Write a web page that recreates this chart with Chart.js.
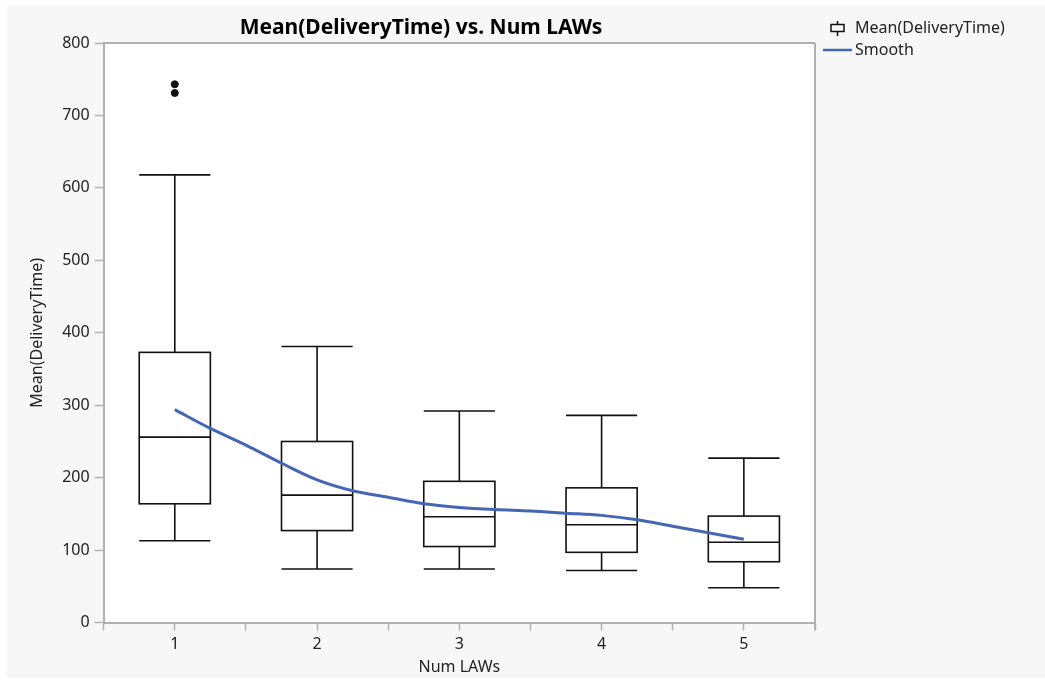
<!DOCTYPE html>
<html>
<head>
<meta charset="utf-8">
<script src="https://cdn.jsdelivr.net/npm/chart.js@4"></script>
<style>
  html, body { margin: 0; padding: 0; background: #ffffff; }
  #wrap { position: absolute; left: 7px; top: 6px; width: 1038px; height: 672px; background: #f7f7f7; }
</style>
</head>
<body>
<div id="wrap"><canvas id="myChart" width="1038" height="672"></canvas></div>
<script>
/* globals Chart:false */
(() => {
  'use strict';

  // Box plot summaries per Num LAWs group
  const numLaws = [1, 2, 3, 4, 5];
  const whiskerLow = [113, 74, 74, 72, 48];
  const q1 = [164, 127, 105, 97, 84];
  const median = [256, 176, 146, 135, 111];
  const q3 = [373, 250, 195, 186, 147];
  const whiskerHigh = [618, 381, 292, 286, 227];

  // Outliers
  const outlierX = [1, 1];
  const outlierY = [743, 731];

  // Smooth curve
  const smoothX = [1, 1.25, 1.5, 1.75, 2, 2.25, 2.5, 2.75, 3, 3.25, 3.5, 3.75, 4, 4.25, 4.5, 4.75, 5];
  const smoothY = [294, 268, 245, 220, 197, 182, 173, 164, 159, 156, 154, 151, 148, 142, 133, 124, 115];

  const FONT = 'Noto Sans';
  const boxHalf = 0.25;

  // Boxes, medians and whiskers drawn through the scales
  const boxPlugin = {
    id: 'boxes',
    beforeDatasetsDraw(chart) {
      const { ctx, scales: { x, y } } = chart;
      ctx.save();
      ctx.strokeStyle = '#111';
      ctx.lineWidth = 1.6;
      numLaws.forEach((n, i) => {
        const xl = x.getPixelForValue(n - boxHalf);
        const xr = x.getPixelForValue(n + boxHalf);
        const xc = x.getPixelForValue(n);
        const yq1 = y.getPixelForValue(q1[i]);
        const yq3 = y.getPixelForValue(q3[i]);
        const ym = y.getPixelForValue(median[i]);
        const ylo = y.getPixelForValue(whiskerLow[i]);
        const yhi = y.getPixelForValue(whiskerHigh[i]);
        ctx.fillStyle = '#fff';
        ctx.fillRect(xl, yq3, xr - xl, yq1 - yq3);
        ctx.strokeRect(xl, yq3, xr - xl, yq1 - yq3);
        ctx.beginPath();
        ctx.moveTo(xl, ym); ctx.lineTo(xr, ym);
        ctx.moveTo(xc, yq3); ctx.lineTo(xc, yhi);
        ctx.moveTo(xl, yhi); ctx.lineTo(xr, yhi);
        ctx.moveTo(xc, yq1); ctx.lineTo(xc, ylo);
        ctx.moveTo(xl, ylo); ctx.lineTo(xr, ylo);
        ctx.stroke();
      });
      ctx.restore();
    },
    afterDraw(chart) {
      const { ctx, chartArea: a } = chart;
      ctx.save();
      // frame top and right
      ctx.strokeStyle = '#b0b0b0';
      ctx.lineWidth = 2;
      ctx.beginPath();
      ctx.moveTo(a.left, a.top); ctx.lineTo(a.right, a.top);
      ctx.moveTo(a.right, a.top); ctx.lineTo(a.right, a.bottom + 8);
      ctx.stroke();
      // title
      ctx.fillStyle = '#000';
      ctx.font = 'bold 21px "' + FONT + '"';
      ctx.textAlign = 'center';
      ctx.textBaseline = 'middle';
      ctx.fillText('Mean(DeliveryTime) vs. Num LAWs', 414, 22);
      // legend
      ctx.font = '16px "' + FONT + '"';
      ctx.textAlign = 'left';
      ctx.fillStyle = '#222';
      ctx.fillText('Mean(DeliveryTime)', 848, 22);
      ctx.fillText('Smooth', 848, 44);
      ctx.strokeStyle = '#111';
      ctx.lineWidth = 1.5;
      ctx.strokeRect(824, 18.5, 13, 7);
      ctx.beginPath();
      ctx.moveTo(830.5, 15); ctx.lineTo(830.5, 18.5);
      ctx.moveTo(830.5, 25.5); ctx.lineTo(830.5, 30);
      ctx.stroke();
      ctx.strokeStyle = '#4466b4';
      ctx.lineWidth = 2.5;
      ctx.beginPath();
      ctx.moveTo(816, 44); ctx.lineTo(845, 44);
      ctx.stroke();
      ctx.restore();
    }
  };

  const chartAreaBg = {
    id: 'areaBg',
    beforeDraw(chart) {
      const { ctx, chartArea: a } = chart;
      ctx.save();
      ctx.fillStyle = '#fff';
      ctx.fillRect(a.left, a.top, a.right - a.left, a.bottom - a.top);
      ctx.restore();
    }
  };

  const ctx = document.getElementById('myChart');
  // eslint-disable-next-line no-unused-vars
  const myChart = new Chart(ctx, {
    type: 'line',
    data: {
      datasets: [{
        label: 'Smooth',
        data: smoothX.map((v, i) => ({ x: v, y: smoothY[i] })),
        borderColor: '#4466b4',
        borderWidth: 3,
        pointRadius: 0,
        tension: 0.4,
        cubicInterpolationMode: 'monotone',
        fill: false,
        order: 1
      }, {
        type: 'scatter',
        label: 'Outliers',
        data: outlierX.map((v, i) => ({ x: v, y: outlierY[i] })),
        backgroundColor: '#111',
        borderColor: '#111',
        pointRadius: 3.5,
        order: 0
      }]
    },
    options: {
      responsive: false,
      animation: false,
      layout: { padding: { left: 21, top: 37, right: 230, bottom: 1 } },
      plugins: {
        legend: { display: false },
        tooltip: { enabled: false }
      },
      scales: {
        x: {
          type: 'linear',
          min: 0.5,
          max: 5.5,
          afterBuildTicks: (axis) => {
            axis.ticks = [];
            for (let v = 1; v <= 11; v++) axis.ticks.push({ value: 0.5 * v });
          },
          ticks: {
            color: '#222',
            font: { family: FONT, size: 16 },
            padding: 4,
            maxRotation: 0,
            autoSkip: false,
            callback: (v) => (Number.isInteger(v) ? String(v) : '')
          },
          grid: { drawOnChartArea: false, tickLength: 8, color: '#b0b0b0', tickWidth: 1.5 },
          border: { color: '#b0b0b0', width: 2 },
          title: { display: true, text: 'Num LAWs', color: '#222', font: { family: FONT, size: 16 }, padding: { top: 0, bottom: 0 } }
        },
        y: {
          min: 0,
          max: 800,
          ticks: { stepSize: 100, color: '#222', font: { family: FONT, size: 16 }, padding: 5 },
          grid: { drawOnChartArea: false, tickLength: 9, color: '#b0b0b0', tickWidth: 1.5 },
          border: { color: '#b0b0b0', width: 2 },
          title: { display: true, text: 'Mean(DeliveryTime)', color: '#222', font: { family: FONT, size: 16 }, padding: { top: 0, bottom: 10 } }
        }
      }
    },
    plugins: [chartAreaBg, boxPlugin]
  });
})();
</script>
</body>
</html>
